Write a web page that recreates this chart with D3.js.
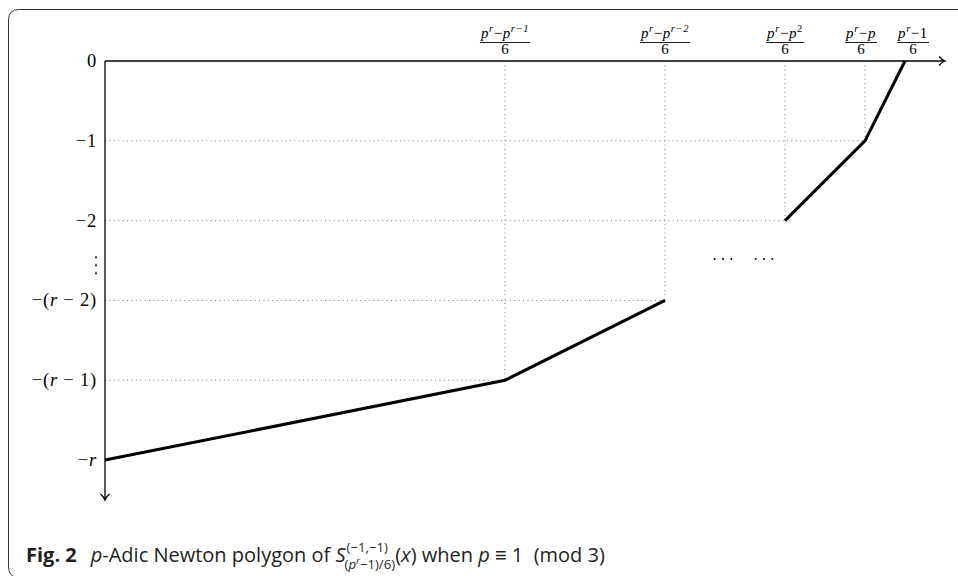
<!DOCTYPE html>
<html>
<head>
<meta charset="utf-8">
<script src="https://cdn.jsdelivr.net/npm/d3@7"></script>
<style>
  html, body { margin: 0; padding: 0; background: #fff; }
  svg { display: block; }
  text { white-space: pre; }
</style>
</head>
<body>
<div id="chart"></div>
<script>
// Schematic axis units: x = position of each break point, y = -(valuation level)
var vertexX = [0, 20, 28, 34, 38, 40];
var vertexY = [5, 4, 3, 2, 1, 0];
// segments of the polygon (indices into vertex arrays); the middle part is elided by dots
var segments = [[0, 1, 2], [3, 4, 5]];
var gridVertices = [1, 2, 3, 4];

// x tick labels: numerator parts over "6"
var xTickPos = [20, 28, 34, 38, 40];
var xTickShift = [0, 0, 0, -0.2, 0.4];
var xTickNum = [
  [['p', 'i'], ['r', 'sup'], ['−', 'n'], ['p', 'i'], ['r−1', 'sup']],
  [['p', 'i'], ['r', 'sup'], ['−', 'n'], ['p', 'i'], ['r−2', 'sup']],
  [['p', 'i'], ['r', 'sup'], ['−', 'n'], ['p', 'i'], ['2', 'supn']],
  [['p', 'i'], ['r', 'sup'], ['−', 'n'], ['p', 'i']],
  [['p', 'i'], ['r', 'sup'], ['−1', 'n']]
];
var xTickDen = '6';

// y tick labels
var yTickPos = [0, 1, 2, 3, 4, 5];
var yTickLabels = [
  [['0', 'n']],
  [['−1', 'n']],
  [['−2', 'n']],
  [['−(', 'n'], ['r', 'i'], [' − 2)', 'n']],
  [['−(', 'n'], ['r', 'i'], [' − 1)', 'n']],
  [['−', 'n'], ['r', 'i']]
];
var vDots = [2.46, 2.56, 2.66];
var hDotCenters = [30.9, 32.95];
var hDotLevel = 2.48;

var W = 958, H = 576;
var serif = '"Liberation Serif", "DejaVu Serif", serif';
var sans = '"Open Sans", "Noto Sans", sans-serif';

var svg = d3.select('#chart').append('svg').attr('width', W).attr('height', H);

var x = d3.scaleLinear().domain([0, 42]).range([105, 945]);
var y = d3.scaleLinear().domain([0, 5.5]).range([61, 500]);

// frame
svg.append('path')
  .attr('d', 'M958,9.5 H19 Q8.5,9.5 8.5,20 V566 Q8.5,576 16,577')
  .attr('fill', 'none').attr('stroke', '#333').attr('stroke-width', 1);

// lay out a run of text parts, returns width
function layout(g, parts, size, fam, ls) {
  var cx = 0;
  parts.forEach(function(p) {
    var t = p[0], kind = p[1];
    var fs = size, dy = 0, style = 'normal';
    if (kind === 'i') style = 'italic';
    if (kind === 'sup') { fs = size * 0.7; dy = -size * 0.38; style = 'italic'; }
    if (kind === 'supn') { fs = size * 0.7; dy = -size * 0.38; }
    var el = g.append('text').attr('x', cx).attr('y', dy)
      .attr('font-family', fam).attr('font-size', fs)
      .attr('font-style', style).attr('letter-spacing', ls || 0)
      .attr('fill', '#000').text(t);
    cx += el.node().getComputedTextLength();
  });
  return cx;
}

// dotted guides
var grid = svg.append('g');
gridVertices.forEach(function(i) {
  grid.append('line')
    .attr('x1', x(0)).attr('x2', x(vertexX[i]))
    .attr('y1', y(vertexY[i])).attr('y2', y(vertexY[i]));
  grid.append('line')
    .attr('x1', x(vertexX[i])).attr('x2', x(vertexX[i]))
    .attr('y1', y(0)).attr('y2', y(vertexY[i]));
});
grid.selectAll('line').attr('stroke', '#777').attr('stroke-width', 1)
  .attr('stroke-dasharray', '1,3.4');

// axes
var axes = svg.append('g').attr('stroke', '#000').attr('stroke-width', 1.3).attr('fill', 'none');
axes.append('line').attr('x1', x(0)).attr('x2', x(42) - 1).attr('y1', y(0)).attr('y2', y(0));
axes.append('line').attr('x1', x(0)).attr('x2', x(0)).attr('y1', y(0)).attr('y2', y(5.5) - 1);
axes.append('path')
  .attr('d', 'M' + (x(42) - 6) + ',' + (y(0) - 4.5) + ' Q' + (x(42) - 3) + ',' + (y(0) - 1) + ' ' + x(42) + ',' + y(0) +
             ' Q' + (x(42) - 3) + ',' + (y(0) + 1) + ' ' + (x(42) - 6) + ',' + (y(0) + 4.5));
axes.append('path')
  .attr('d', 'M' + (x(0) - 4.5) + ',' + (y(5.5) - 6) + ' Q' + (x(0) - 1) + ',' + (y(5.5) - 3) + ' ' + x(0) + ',' + y(5.5) +
             ' Q' + (x(0) + 1) + ',' + (y(5.5) - 3) + ' ' + (x(0) + 4.5) + ',' + (y(5.5) - 6));

// polygon segments
var line = d3.line().x(function(i) { return x(vertexX[i]); }).y(function(i) { return y(vertexY[i]); });
svg.selectAll('.seg').data(segments).enter().append('path')
  .attr('class', 'seg').attr('d', line)
  .attr('fill', 'none').attr('stroke', '#000').attr('stroke-width', 3)
  .attr('stroke-linejoin', 'miter').attr('stroke-linecap', 'butt');

// x tick labels (fractions)
xTickPos.forEach(function(v, k) {
  var cxp = x(v + xTickShift[k]);
  var g = svg.append('g');
  var num = g.append('g');
  var w = layout(num, xTickNum[k], 15, serif, 0.6);
  num.attr('transform', 'translate(' + (-w / 2) + ',' + 38 + ')');
  var den = g.append('g');
  var wd = layout(den, [[xTickDen, 'n']], 15, serif);
  den.attr('transform', 'translate(' + (-wd / 2) + ',' + 53.5 + ')');
  g.append('line').attr('x1', -w / 2 - 1).attr('x2', w / 2 + 1).attr('y1', 42.5).attr('y2', 42.5)
    .attr('stroke', '#000').attr('stroke-width', 0.9);
  g.attr('transform', 'translate(' + cxp + ',0)');
});

// y tick labels
yTickPos.forEach(function(v, k) {
  var g = svg.append('g');
  var w = layout(g, yTickLabels[k], 18.5, serif, 0.8);
  g.attr('transform', 'translate(' + (97 - w) + ',' + (y(v) + 6) + ')');
});
// vertical ellipsis between -2 and -(r-2)
svg.selectAll('.vdot').data(vDots).enter().append('circle')
  .attr('cx', 96).attr('cy', function(d) { return y(d); }).attr('r', 1).attr('fill', '#000');
// horizontal ellipses
var hdots = [];
hDotCenters.forEach(function(c) { [-0.42, 0, 0.42].forEach(function(o) { hdots.push(c + o); }); });
svg.selectAll('.hdot').data(hdots).enter().append('circle')
  .attr('cx', function(d) { return x(d); }).attr('cy', y(hDotLevel)).attr('r', 1).attr('fill', '#000');

// caption
var cap = svg.append('g');
var cs = 20;
var cx = 0;
function capText(t, opts) {
  opts = opts || {};
  var fs = opts.fs || cs;
  var el = cap.append('text').attr('x', opts.x !== undefined ? opts.x : cx).attr('y', opts.dy || 0)
    .attr('font-family', sans).attr('font-size', fs)
    .attr('font-style', opts.it ? 'italic' : 'normal')
    .attr('font-weight', opts.b ? 'bold' : 'normal')
    .attr('fill', '#231f20').text(t);
  var w = el.node().getComputedTextLength();
  if (!opts.noAdvance) cx += w;
  return w;
}
capText('Fig. 2', { b: true });
cx += 14;
capText('p', { it: true });
capText('-Adic Newton polygon of ');
capText('S', { it: true });
var sx = cx + 1;
var w1 = capText('(−1,−1)', { fs: cs * 0.66, dy: -10, x: sx, noAdvance: true });
var subParts = [['(', false], ['p', true], ['r', true, true], ['−1)/6)', false]];
var sc = sx - 2;
subParts.forEach(function(p) {
  var fs = p[2] ? cs * 0.48 : cs * 0.66;
  var el = cap.append('text').attr('x', sc).attr('y', p[2] ? 2 : 7)
    .attr('font-family', sans).attr('font-size', fs)
    .attr('font-style', p[1] ? 'italic' : 'normal').attr('fill', '#231f20').text(p[0]);
  sc += el.node().getComputedTextLength();
});
cx = Math.max(sx + w1, sc);
capText('(');
capText('x', { it: true });
capText(') when ');
capText('p', { it: true });
capText(' ≡ 1  (mod 3)');
cap.attr('transform', 'translate(26,562)');
</script>
</body>
</html>
